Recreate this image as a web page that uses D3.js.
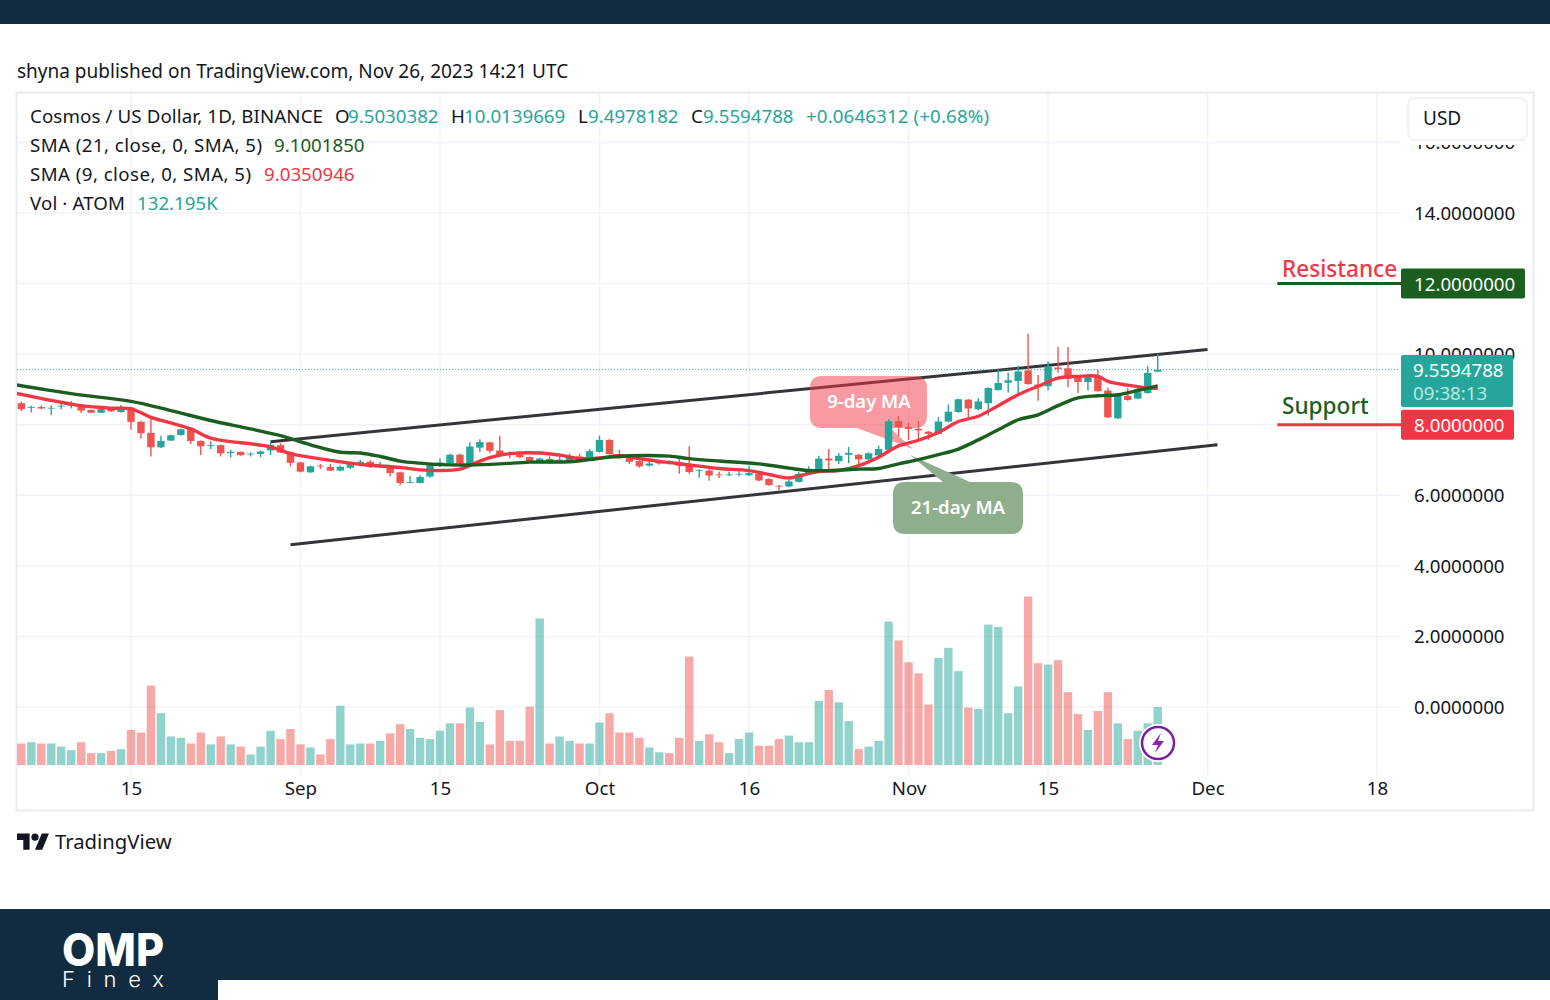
<!DOCTYPE html>
<html>
<head>
<meta charset="utf-8">
<script src="https://cdn.jsdelivr.net/npm/d3@7"></script>
<style>
    html, body { margin: 0; padding: 0; background: #fff; }
    svg { display: block; }
    text { font-family: "Noto Sans", sans-serif; fill: #131722; }
    .axis path, .axis line { display: none; }
    .axis text { font-size: 18.7px; fill: #131722; }
</style>
</head>
<body>
<script>
var parseDay = d3.utcParse("%Y-%m-%d");

// date, open, high, low, close, volume (K)
var candles = [
    ["2023-08-04", 8.61, 8.66, 8.38, 8.44, 49], ["2023-08-05", 8.48, 8.54, 8.35, 8.50, 52],
    ["2023-08-06", 8.50, 8.55, 8.44, 8.46, 49], ["2023-08-07", 8.46, 8.55, 8.27, 8.48, 49],
    ["2023-08-08", 8.52, 8.63, 8.44, 8.54, 42], ["2023-08-09", 8.54, 8.67, 8.46, 8.56, 34],
    ["2023-08-10", 8.54, 8.57, 8.33, 8.40, 52], ["2023-08-11", 8.42, 8.43, 8.33, 8.34, 27],
    ["2023-08-12", 8.34, 8.46, 8.33, 8.44, 27], ["2023-08-13", 8.46, 8.48, 8.36, 8.38, 32],
    ["2023-08-14", 8.36, 8.56, 8.34, 8.49, 36], ["2023-08-15", 8.49, 8.51, 7.86, 8.08, 80],
    ["2023-08-16", 8.08, 8.11, 7.61, 7.76, 74], ["2023-08-17", 7.77, 8.18, 7.10, 7.36, 181],
    ["2023-08-18", 7.36, 7.69, 7.34, 7.54, 118], ["2023-08-19", 7.55, 7.72, 7.54, 7.70, 65],
    ["2023-08-20", 7.71, 7.89, 7.69, 7.87, 62], ["2023-08-21", 7.87, 7.91, 7.45, 7.54, 49],
    ["2023-08-22", 7.54, 7.55, 7.14, 7.39, 74], ["2023-08-23", 7.40, 7.53, 7.31, 7.42, 47],
    ["2023-08-24", 7.42, 7.44, 7.10, 7.19, 65], ["2023-08-25", 7.20, 7.29, 7.07, 7.23, 47],
    ["2023-08-26", 7.23, 7.24, 7.12, 7.14, 42], ["2023-08-27", 7.16, 7.22, 7.10, 7.18, 24],
    ["2023-08-28", 7.17, 7.27, 7.08, 7.24, 42], ["2023-08-29", 7.27, 7.50, 7.14, 7.43, 78],
    ["2023-08-30", 7.42, 7.47, 7.20, 7.21, 59], ["2023-08-31", 7.22, 7.24, 6.82, 6.92, 82],
    ["2023-09-01", 6.93, 6.95, 6.65, 6.67, 47], ["2023-09-02", 6.65, 6.84, 6.63, 6.82, 40],
    ["2023-09-03", 6.84, 6.89, 6.75, 6.82, 24], ["2023-09-04", 6.80, 6.89, 6.69, 6.70, 59],
    ["2023-09-05", 6.70, 6.84, 6.68, 6.81, 135], ["2023-09-06", 6.78, 6.94, 6.74, 6.89, 47],
    ["2023-09-07", 6.86, 7.01, 6.82, 6.95, 49], ["2023-09-08", 6.95, 6.99, 6.77, 6.80, 49],
    ["2023-09-09", 6.84, 6.94, 6.77, 6.86, 55], ["2023-09-10", 6.83, 6.86, 6.53, 6.63, 72],
    ["2023-09-11", 6.65, 6.67, 6.28, 6.35, 93], ["2023-09-12", 6.35, 6.55, 6.34, 6.37, 82],
    ["2023-09-13", 6.35, 6.57, 6.34, 6.52, 62], ["2023-09-14", 6.53, 6.89, 6.50, 6.86, 59],
    ["2023-09-15", 6.84, 7.04, 6.80, 6.93, 78], ["2023-09-16", 6.91, 7.18, 6.89, 7.15, 95],
    ["2023-09-17", 7.15, 7.18, 6.89, 6.91, 95], ["2023-09-18", 6.89, 7.50, 6.87, 7.38, 131],
    ["2023-09-19", 7.35, 7.59, 7.23, 7.51, 98], ["2023-09-20", 7.50, 7.52, 7.20, 7.26, 47],
    ["2023-09-21", 7.27, 7.69, 7.08, 7.12, 125], ["2023-09-22", 7.17, 7.24, 7.05, 7.15, 55],
    ["2023-09-23", 7.15, 7.20, 7.06, 7.08, 55], ["2023-09-24", 7.08, 7.10, 6.93, 6.96, 133],
    ["2023-09-25", 6.95, 7.06, 6.93, 7.04, 334], ["2023-09-26", 7.03, 7.10, 6.89, 6.95, 49],
    ["2023-09-27", 6.99, 7.10, 6.93, 7.01, 65], ["2023-09-28", 6.95, 7.18, 6.93, 7.08, 55],
    ["2023-09-29", 7.10, 7.18, 7.01, 7.03, 49], ["2023-09-30", 7.08, 7.31, 7.05, 7.25, 49],
    ["2023-10-01", 7.23, 7.69, 7.21, 7.57, 97], ["2023-10-02", 7.57, 7.59, 7.15, 7.17, 118],
    ["2023-10-03", 7.17, 7.29, 7.03, 7.05, 74], ["2023-10-04", 7.05, 7.08, 6.89, 6.95, 74],
    ["2023-10-05", 6.97, 6.99, 6.78, 6.82, 62], ["2023-10-06", 6.84, 6.97, 6.82, 6.90, 40],
    ["2023-10-07", 6.90, 6.99, 6.87, 6.96, 29], ["2023-10-08", 6.97, 6.99, 6.87, 6.95, 27],
    ["2023-10-09", 6.94, 7.03, 6.61, 6.84, 62], ["2023-10-10", 6.84, 7.39, 6.61, 6.66, 247],
    ["2023-10-11", 6.70, 6.74, 6.50, 6.72, 55], ["2023-10-12", 6.70, 6.74, 6.41, 6.56, 70],
    ["2023-10-13", 6.59, 6.67, 6.49, 6.57, 52], ["2023-10-14", 6.57, 6.67, 6.55, 6.59, 27],
    ["2023-10-15", 6.59, 6.69, 6.53, 6.61, 59], ["2023-10-16", 6.57, 6.84, 6.55, 6.63, 74],
    ["2023-10-17", 6.61, 6.65, 6.40, 6.42, 44], ["2023-10-18", 6.46, 6.48, 6.27, 6.29, 44],
    ["2023-10-19", 6.27, 6.29, 6.14, 6.25, 59], ["2023-10-20", 6.25, 6.44, 6.23, 6.39, 67],
    ["2023-10-21", 6.38, 6.65, 6.36, 6.61, 52], ["2023-10-22", 6.62, 6.82, 6.60, 6.75, 52],
    ["2023-10-23", 6.70, 7.12, 6.68, 7.04, 146], ["2023-10-24", 7.04, 7.31, 6.72, 6.99, 171],
    ["2023-10-25", 6.97, 7.20, 6.89, 7.12, 143], ["2023-10-26", 7.15, 7.37, 6.91, 7.20, 100],
    ["2023-10-27", 7.15, 7.17, 6.89, 7.02, 36], ["2023-10-28", 7.02, 7.22, 6.99, 7.19, 42],
    ["2023-10-29", 7.13, 7.41, 7.10, 7.31, 55], ["2023-10-30", 7.29, 8.16, 7.27, 8.10, 327],
    ["2023-10-31", 8.10, 8.24, 7.67, 7.93, 284], ["2023-11-01", 7.93, 8.05, 7.57, 7.88, 234],
    ["2023-11-02", 7.88, 8.10, 7.56, 7.84, 209], ["2023-11-03", 7.80, 7.82, 7.57, 7.74, 138],
    ["2023-11-04", 7.74, 8.21, 7.72, 8.09, 244], ["2023-11-05", 8.09, 8.57, 8.07, 8.37, 267],
    ["2023-11-06", 8.36, 8.74, 8.34, 8.72, 214], ["2023-11-07", 8.71, 8.73, 8.19, 8.46, 131],
    ["2023-11-08", 8.44, 8.75, 8.41, 8.66, 128], ["2023-11-09", 8.61, 9.06, 8.26, 9.04, 320],
    ["2023-11-10", 8.98, 9.56, 8.97, 9.18, 315], ["2023-11-11", 9.19, 9.47, 8.91, 9.26, 118],
    ["2023-11-12", 9.24, 9.67, 8.90, 9.51, 179], ["2023-11-13", 9.54, 10.58, 9.14, 9.15, 384],
    ["2023-11-14", 9.14, 9.41, 8.68, 9.08, 232], ["2023-11-15", 9.09, 9.79, 8.97, 9.66, 229],
    ["2023-11-16", 9.62, 10.20, 9.47, 9.58, 239], ["2023-11-17", 9.60, 10.20, 9.06, 9.30, 166],
    ["2023-11-18", 9.38, 9.40, 8.90, 9.21, 116], ["2023-11-19", 9.21, 9.41, 8.97, 9.39, 80],
    ["2023-11-20", 9.39, 9.56, 8.94, 8.95, 123], ["2023-11-21", 8.97, 9.05, 8.19, 8.21, 166],
    ["2023-11-22", 8.18, 8.85, 8.16, 8.83, 95], ["2023-11-23", 8.82, 9.04, 8.68, 8.70, 59],
    ["2023-11-24", 8.74, 9.09, 8.72, 8.92, 78], ["2023-11-25", 8.90, 9.66, 8.88, 9.47, 95],
    ["2023-11-26", 9.5030382, 10.0139669, 9.4978182, 9.5594788, 132.195]
].map(function (d) {
    return { date: parseDay(d[0]), open: d[1], high: d[2], low: d[3], close: d[4], volume: d[5] };
});

var sma21 = [
    ["2023-08-03", 9.15], ["2023-08-09", 8.88], ["2023-08-15", 8.66], ["2023-08-19", 8.40],
    ["2023-08-23", 8.12], ["2023-08-27", 7.88], ["2023-08-30", 7.69], ["2023-09-02", 7.43],
    ["2023-09-05", 7.22], ["2023-09-07", 7.20], ["2023-09-09", 7.10], ["2023-09-11", 6.97],
    ["2023-09-13", 6.91], ["2023-09-15", 6.87], ["2023-09-18", 6.86], ["2023-09-21", 6.89],
    ["2023-09-24", 6.94], ["2023-09-28", 6.95], ["2023-09-30", 7.01], ["2023-10-02", 7.08],
    ["2023-10-04", 7.12], ["2023-10-08", 7.11], ["2023-10-10", 7.04], ["2023-10-13", 6.97],
    ["2023-10-17", 6.89], ["2023-10-20", 6.77], ["2023-10-22", 6.70], ["2023-10-24", 6.70],
    ["2023-10-27", 6.74], ["2023-10-29", 6.76], ["2023-10-31", 6.89], ["2023-11-02", 7.01],
    ["2023-11-04", 7.15], ["2023-11-06", 7.31], ["2023-11-08", 7.57], ["2023-11-10", 7.86],
    ["2023-11-12", 8.14], ["2023-11-14", 8.28], ["2023-11-16", 8.54], ["2023-11-18", 8.76],
    ["2023-11-20", 8.82], ["2023-11-22", 8.85], ["2023-11-24", 8.97], ["2023-11-26", 9.10]
];

var sma9 = [
    ["2023-08-03", 8.92], ["2023-08-07", 8.69], ["2023-08-10", 8.54], ["2023-08-13", 8.47],
    ["2023-08-15", 8.45], ["2023-08-17", 8.21], ["2023-08-19", 8.05], ["2023-08-21", 7.88],
    ["2023-08-23", 7.62], ["2023-08-25", 7.52], ["2023-08-27", 7.46], ["2023-08-29", 7.37],
    ["2023-08-31", 7.18], ["2023-09-03", 7.03], ["2023-09-06", 6.91], ["2023-09-08", 6.85],
    ["2023-09-11", 6.79], ["2023-09-13", 6.72], ["2023-09-15", 6.70], ["2023-09-17", 6.74],
    ["2023-09-18", 6.85], ["2023-09-20", 7.07], ["2023-09-22", 7.18], ["2023-09-25", 7.20],
    ["2023-09-27", 7.14], ["2023-09-29", 7.04], ["2023-10-01", 7.06], ["2023-10-03", 7.12],
    ["2023-10-05", 7.04], ["2023-10-07", 6.96], ["2023-10-10", 6.86], ["2023-10-13", 6.76],
    ["2023-10-16", 6.70], ["2023-10-18", 6.59], ["2023-10-20", 6.49], ["2023-10-21", 6.55],
    ["2023-10-23", 6.67], ["2023-10-25", 6.70], ["2023-10-27", 6.84], ["2023-10-29", 7.08],
    ["2023-10-31", 7.40], ["2023-11-02", 7.56], ["2023-11-04", 7.78], ["2023-11-06", 8.09],
    ["2023-11-08", 8.24], ["2023-11-10", 8.54], ["2023-11-12", 8.85], ["2023-11-14", 9.09],
    ["2023-11-16", 9.32], ["2023-11-18", 9.37], ["2023-11-20", 9.37], ["2023-11-21", 9.23],
    ["2023-11-23", 9.12], ["2023-11-25", 9.04], ["2023-11-26", 9.035]
];

var channel = [
    [["2023-08-29", 7.52], ["2023-12-01", 10.13]],
    [["2023-08-31", 4.60], ["2023-12-02", 7.43]]
];

var upColor = "#26a69a", downColor = "#ef5350";
var darkBlue = "#112b41", lineRed = "#f23645", lineGreen = "#1b5e20";

var x = d3.scaleUtc()
    .domain([parseDay("2023-08-15"), parseDay("2023-12-18")])
    .range([131, 1377]);
var y = d3.scaleLinear()
    .domain([0, 14])
    .range([707, 213]);
var yVol = d3.scaleLinear()
    .domain([0, 132.195])
    .range([765, 707]);

var svg = d3.select("body").append("svg")
    .attr("width", 1550)
    .attr("height", 1000);

// page frame
svg.append("rect").attr("width", 1550).attr("height", 24).attr("fill", darkBlue);
svg.append("rect").attr("y", 909).attr("width", 1550).attr("height", 91).attr("fill", darkBlue);
svg.append("rect").attr("x", 218).attr("y", 980).attr("width", 1332).attr("height", 20).attr("fill", "#fff");

svg.append("text")
    .attr("x", 17).attr("y", 78)
    .style("font-size", "19px")
    .text("shyna published on TradingView.com, Nov 26, 2023 14:21 UTC");

svg.append("rect")
    .attr("x", 16.5).attr("y", 92.5)
    .attr("width", 1517).attr("height", 718)
    .attr("fill", "#fff")
    .attr("stroke", "#e9ebf1")
    .attr("stroke-width", 2);

svg.append("clipPath").attr("id", "plot")
    .append("rect").attr("x", 17).attr("y", 93).attr("width", 1383).attr("height", 682);

var timeTicks = ["2023-08-15", "2023-09-01", "2023-09-15", "2023-10-01", "2023-10-16",
    "2023-11-01", "2023-11-15", "2023-12-01", "2023-12-18"].map(parseDay);
var priceTicks = [0, 2, 4, 6, 8, 10, 12, 14, 16];

// grid
svg.append("g").selectAll("line")
    .data(timeTicks)
    .enter()
    .append("line")
    .attr("x1", function (d) { return x(d); })
    .attr("x2", function (d) { return x(d); })
    .attr("y1", 93).attr("y2", 775)
    .attr("stroke", "#f0f3fa").attr("stroke-width", 1.5);

svg.append("g").selectAll("line")
    .data(priceTicks)
    .enter()
    .append("line")
    .attr("x1", 17).attr("x2", 1400)
    .attr("y1", function (d) { return y(d); })
    .attr("y2", function (d) { return y(d); })
    .attr("stroke", "#f0f3fa").attr("stroke-width", 1.5);

// axes
var xAxis = d3.axisBottom(x)
    .tickValues(timeTicks)
    .tickSize(0)
    .tickFormat(function (d) {
        if (d.getUTCDate() !== 1) return d3.utcFormat("%-d")(d);
        return d3.utcFormat("%b")(d);
    });
svg.append("g")
    .attr("class", "axis")
    .attr("transform", "translate(0,776)")
    .call(xAxis)
    .selectAll("text")
    .attr("y", 6)
    .attr("dy", ".71em");

var yAxis = d3.axisRight(y)
    .tickValues(priceTicks)
    .tickSize(0)
    .tickFormat(function (d) { return d.toFixed(7); });
svg.append("g")
    .attr("class", "axis")
    .attr("transform", "translate(1414,0.5)")
    .call(yAxis)
    .selectAll("text")
    .attr("x", 0);

// volume
var barWidth = 8.4;
svg.append("g")
    .attr("clip-path", "url(#plot)")
    .selectAll("rect")
    .data(candles)
    .enter()
    .append("rect")
    .attr("x", function (d) { return x(d.date) - barWidth / 2; })
    .attr("y", function (d) { return yVol(d.volume); })
    .attr("width", barWidth)
    .attr("height", function (d) { return yVol(0) - yVol(d.volume); })
    .attr("fill", function (d) { return d.close >= d.open ? upColor : downColor; })
    .attr("opacity", 0.5);

// channel lines
var line = d3.line()
    .x(function (d) { return x(parseDay(d[0])); })
    .y(function (d) { return y(d[1]); });

svg.append("g").selectAll("path")
    .data(channel)
    .enter()
    .append("path")
    .attr("d", line)
    .attr("fill", "none")
    .attr("stroke", "#333539")
    .attr("stroke-width", 3);

// last price
svg.append("line")
    .attr("x1", 17).attr("x2", 1400)
    .attr("y1", y(9.5594788)).attr("y2", y(9.5594788))
    .attr("stroke", upColor)
    .attr("stroke-width", 1)
    .attr("stroke-dasharray", "1 2");

// callouts
var pink = svg.append("g");
pink.append("path")
    .attr("d", "M822 376H915Q927 376 927 388V416Q927 428 915 428H890L913 449L857 428H822Q810 428 810 416V388Q810 376 822 376Z")
    .attr("fill", lineRed)
    .attr("opacity", 0.5);
pink.append("text")
    .attr("x", 869).attr("y", 408)
    .attr("text-anchor", "middle")
    .style("fill", "#fff").style("font-size", "18.5px").style("font-weight", 600)
    .text("9-day MA");

var sage = svg.append("g");
sage.append("path")
    .attr("d", "M905 482H943L910 455L970 482H1011Q1023 482 1023 494V522Q1023 534 1011 534H905Q893 534 893 522V494Q893 482 905 482Z")
    .attr("fill", "#8fae8e");
sage.append("text")
    .attr("x", 958).attr("y", 514)
    .attr("text-anchor", "middle")
    .style("fill", "#fff").style("font-size", "18.5px").style("font-weight", 600)
    .text("21-day MA");

// candles
var candle = svg.append("g")
    .attr("clip-path", "url(#plot)")
    .selectAll("g")
    .data(candles)
    .enter()
    .append("g")
    .attr("fill", function (d) { return d.close >= d.open ? upColor : downColor; })
    .attr("stroke", function (d) { return d.close >= d.open ? upColor : downColor; });

candle.append("line")
    .attr("x1", function (d) { return x(d.date); })
    .attr("x2", function (d) { return x(d.date); })
    .attr("y1", function (d) { return y(d.high); })
    .attr("y2", function (d) { return y(d.low); })
    .attr("stroke-width", 1.4);

candle.append("rect")
    .attr("x", function (d) { return x(d.date) - 3.7; })
    .attr("y", function (d) { return y(Math.max(d.open, d.close)); })
    .attr("width", 7.4)
    .attr("height", function (d) { return Math.max(0.8, Math.abs(y(d.open) - y(d.close))); })
    .attr("stroke", "none");

// moving averages
var smaLine = d3.line()
    .curve(d3.curveCatmullRom)
    .x(function (d) { return x(parseDay(d[0])); })
    .y(function (d) { return y(d[1]); });

svg.append("path")
    .datum(sma9)
    .attr("clip-path", "url(#plot)")
    .attr("d", smaLine)
    .attr("fill", "none")
    .attr("stroke", lineRed)
    .attr("stroke-width", 3.4);

svg.append("path")
    .datum(sma21)
    .attr("clip-path", "url(#plot)")
    .attr("d", smaLine)
    .attr("fill", "none")
    .attr("stroke", lineGreen)
    .attr("stroke-width", 3.4);

// usd button sits over the clipped top tick
svg.append("rect")
    .attr("x", 1408).attr("y", 99)
    .attr("width", 119).attr("height", 46)
    .attr("fill", "#fff");
svg.append("rect")
    .attr("x", 1408).attr("y", 98)
    .attr("width", 119).attr("height", 42)
    .attr("rx", 7)
    .attr("fill", "#fff")
    .attr("stroke", "#eceef3")
    .attr("stroke-width", 1.5);
svg.append("text")
    .attr("x", 1423).attr("y", 125)
    .style("font-size", "19px")
    .text("USD");

// legend: x, text, colour, width when it has to be forced
var teal = "#26a69a";
var legend = [
    [116, [[30, "Cosmos / US Dollar, 1D, BINANCE", "#131722", 293], [335, "O", "#131722"], [348, "9.5030382", teal],
        [451, "H", "#131722"], [464, "10.0139669", teal], [578, "L", "#131722"], [588, "9.4978182", teal],
        [691, "C", "#131722"], [703, "9.5594788", teal], [806, "+0.0646312 (+0.68%)", teal, 183]]],
    [145, [[30, "SMA (21, close, 0, SMA, 5)", "#131722", 232], [274, "9.1001850", lineGreen]]],
    [174, [[30, "SMA (9, close, 0, SMA, 5)", "#131722", 221], [264, "9.0350946", lineRed]]],
    [203, [[30, "Vol · ATOM", "#131722", 95], [137, "132.195K", teal]]]
];
legend.forEach(function (row) {
    row[1].forEach(function (t) {
        var label = svg.append("text")
            .attr("x", t[0]).attr("y", row[0] + 6.5)
            .style("font-size", "18.7px")
            .style("fill", t[2])
            .text(t[1]);
        if (t[3]) label.attr("textLength", t[3]);
    });
});

// support and resistance
var levels = [
    { price: 12, label: "Resistance", labelColor: lineRed, color: lineGreen, w: 124, dy: 6.5 },
    { price: 8, label: "Support", labelColor: lineGreen, color: lineRed, w: 113, dy: 11 }
];
levels.forEach(function (l) {
    svg.append("line")
        .attr("x1", x(parseDay("2023-12-08"))).attr("x2", 1401)
        .attr("y1", y(l.price)).attr("y2", y(l.price))
        .attr("stroke", l.color).attr("stroke-width", 3);
    svg.append("text")
        .attr("x", 1282).attr("y", y(l.price) - l.dy)
        .style("font-size", "22.6px").style("font-weight", 500)
        .style("fill", l.labelColor)
        .text(l.label);
});

// price tags
svg.append("rect").attr("x", 1401).attr("y", 355).attr("width", 112).attr("height", 52)
    .attr("rx", 2).attr("fill", upColor);
svg.append("text").attr("x", 1413).attr("y", 376.5).style("font-size", "18.7px").style("fill", "#fff").text("9.5594788");
svg.append("text").attr("x", 1413).attr("y", 400).style("font-size", "18.7px").style("fill", "#b9e6e1").text("09:38:13");

levels.forEach(function (l) {
    svg.append("rect")
        .attr("x", 1401).attr("y", y(l.price) - 15)
        .attr("width", l.w).attr("height", 30)
        .attr("rx", 2).attr("fill", l.color);
    svg.append("text")
        .attr("x", 1414).attr("y", y(l.price) + 7)
        .style("font-size", "18.7px").style("fill", "#fff")
        .text(l.price.toFixed(7));
});

// flash badge at last bar
var badge = svg.append("g").attr("transform", "translate(1158,743)");
badge.append("circle").attr("r", 19).attr("fill", "#fff");
badge.append("circle").attr("r", 16).attr("fill", "#fff").attr("stroke", "#7b1fa2").attr("stroke-width", 2.5);
badge.append("path").attr("d", "M3 -10L-6 2H0L-3 10L6 -2H0Z").attr("fill", "#8e24aa");

// tradingview logo
var tv = svg.append("g").attr("transform", "translate(17,830) scale(0.9)").attr("fill", "#131722");
tv.append("path").attr("d", "M14 22H7V11H0V4h14v18zM28 22h-8l7.5-18h8L28 22z");
tv.append("circle").attr("cx", 20).attr("cy", 8).attr("r", 4);
svg.append("text")
    .attr("x", 55).attr("y", 849)
    .style("font-size", "20.3px")
    .text("TradingView");

// omp finex logo
svg.append("text")
    .attr("x", 62).attr("y", 966)
    .attr("textLength", 102)
    .attr("lengthAdjust", "spacingAndGlyphs")
    .style("font-family", "Inter")
    .style("font-size", "45px").style("font-weight", 800)
    .style("fill", "#fff")
    .text("OMP");
svg.append("text")
    .attr("x", 62).attr("y", 987)
    .attr("textLength", 102)
    .style("font-family", "Inter")
    .style("font-size", "22px").style("font-weight", 300)
    .style("fill", "#fff")
    .text("Finex");
</script>
</body>
</html>
